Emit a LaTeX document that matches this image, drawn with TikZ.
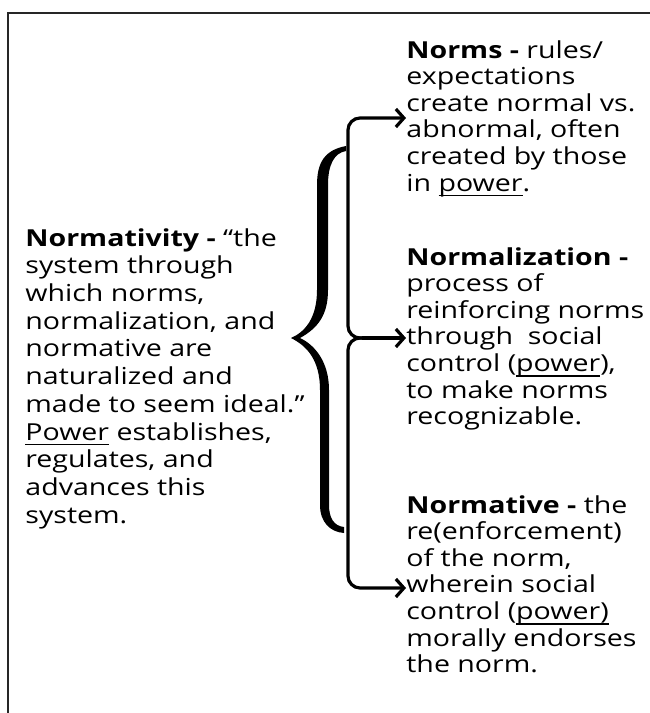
\documentclass[tikz,border=0pt]{standalone}
\usepackage{fontspec}
\setmainfont{Open Sans}[FakeStretch=1.22]
\usetikzlibrary{arrows.meta}
\newcommand{\pwline}[1]{\setbox0\hbox{#1}\rlap{\rule[-5pt]{\wd0}{1.4pt}}\box0\relax}
\begin{document}
\begin{tikzpicture}[x=1pt, y=-1pt, thick]
				\tikzstyle{desc}=[anchor=north west, inner sep=0pt, align=left, font=\fontsize{23.4}{26.6}\selectfont]
				\tikzstyle{link}=[-{Straight Barb[length=8pt,width=18pt]}, line width=3.2pt, black, rounded corners=12pt]
				\useasboundingbox (0,0) rectangle (650,713);
				\draw[line width=2pt, black!85] (8,713) -- (8,13) -- (650,13);
				
				\node[desc, font=\fontsize{23.4}{27.7}\selectfont] (Box-Normativity) at (25,228) {\textbf{Normativity -} “the\\system through\\which norms,\\normalization, and\\normative are\\naturalized and\\made to seem ideal.”\\\pwline{Power} establishes,\\regulates, and\\advances this\\system.};
				\node[desc] (Box-Norms) at (406,40) {\textbf{Norms -} rules/\\expectations\\create normal vs.\\abnormal, often\\created by those\\in \pwline{power}.};
				\node[desc] (Box-Normalization) at (406,247) {\textbf{Normalization -}\\process of\\reinforcing norms\\through\ \ social\\control (\pwline{power}),\\to make norms\\recognizable.};
				\node[desc] (Box-Normative) at (406,495) {\textbf{Normative -} the\\re(enforcement)\\of the norm,\\wherein social\\control (\pwline{power)}\\morally endorses\\the norm.};
				
				% the big brace
				\fill[black] (346,146) .. controls (325,150) and (317,162) .. (317,185) -- (317,290) .. controls (317,318) and (305,332) .. (291,338) .. controls (307,346) and (320,360) .. (320,390) -- (320,505) .. controls (320,522) and (330,532) .. (344,533) -- (344,527) .. controls (334,526) and (329,518) .. (329,505) -- (329,390) .. controls (329,362) and (315,345) .. (300,338) .. controls (318,328) and (328,315) .. (328,290) -- (328,185) .. controls (328,165) and (334,153) .. (346,151) -- cycle;
				
				\coordinate (Hub) at (362,338);
				\coordinate (Tip-1) at (Box-Norms.west |- 0,118);
				\coordinate (Tip-2) at (Box-Normalization.west |- 0,338);
				\coordinate (Tip-3) at (Box-Normative.west |- 0,588);
				
				\draw[link] (Hub) -- (348,338) -- (348,118) -- (Tip-1);
				\draw[link] (Hub) -- (Tip-2);
				\draw[link] (Hub) -- (348,338) -- (348,588) -- (Tip-3);
\end{tikzpicture}
\end{document}
